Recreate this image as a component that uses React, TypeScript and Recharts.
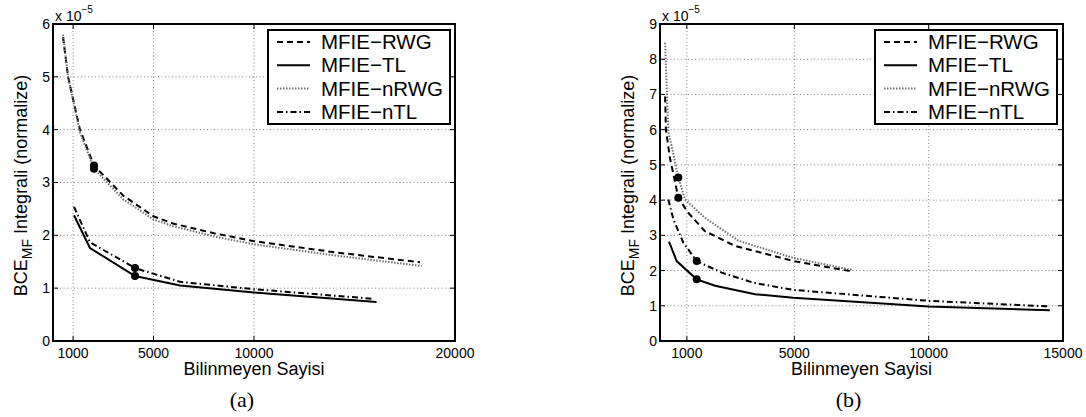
import React from 'react';
import { LineChart, Line, XAxis, YAxis, CartesianGrid, Legend, Label, ReferenceArea } from 'recharts';

const FONT = '"Liberation Sans", Arial, Helvetica, sans-serif';
const SERIF = '"Liberation Serif", "Times New Roman", serif';

const seriesNames = ['MFIE−RWG', 'MFIE−TL', 'MFIE−nRWG', 'MFIE−nTL'];
const xAxisTitle = 'Bilinmeyen Sayisi';
const yAxisTitleMain = 'BCE';
const yAxisTitleSub = 'MF';
const yAxisTitleRest = ' Integrali (normalize)';
const scaleBase = 'x 10';
const scaleExp = '−5';

// ---- panel (a) ----
const aXTicks = [1000, 5000, 10000, 20000];
const aYTicks = [0, 1, 2, 3, 4, 5, 6];
const aRWG = [[500, 5.75], [750, 5.0], [1340, 4.0], [2040, 3.32], [3500, 2.75], [5000, 2.36], [6000, 2.22], [8000, 2.04], [10000, 1.89], [14000, 1.68], [18260, 1.49]];
const aTL = [[1045, 2.38], [1840, 1.76], [4080, 1.23], [6320, 1.05], [10000, 0.92], [16100, 0.74]];
const aNRWG = [[500, 5.8], [750, 5.0], [1340, 3.95], [2040, 3.26], [3500, 2.68], [5000, 2.3], [6000, 2.17], [8000, 1.98], [10000, 1.83], [14000, 1.62], [18340, 1.42]];
const aNTL = [[1045, 2.54], [1840, 1.87], [4080, 1.38], [6320, 1.12], [10000, 0.98], [15900, 0.8]];
const aMarkers = [[2040, 3.32], [2040, 3.26], [4080, 1.38], [4080, 1.23]];

// ---- panel (b) ----
const bXTicks = [1000, 5000, 10000, 15000];
const bYTicks = [0, 1, 2, 3, 4, 5, 6, 7, 8, 9];
const bRWG = [[190, 6.94], [220, 6.0], [370, 5.2], [682, 4.07], [1050, 3.64], [1670, 3.12], [2790, 2.7], [4960, 2.27], [7130, 1.98]];
const bTL = [[335, 2.82], [620, 2.27], [1365, 1.75], [2050, 1.57], [3540, 1.33], [4960, 1.23], [10000, 0.98], [14510, 0.87]];
const bNRWG = [[190, 8.47], [310, 5.95], [500, 5.3], [682, 4.64], [930, 4.02], [1670, 3.5], [2910, 2.85], [4960, 2.36], [7140, 2.02]];
const bNTL = [[310, 4.02], [500, 3.45], [870, 2.79], [1365, 2.27], [2300, 1.94], [3500, 1.65], [4960, 1.45], [10000, 1.14], [14510, 0.98]];
const bMarkers = [[682, 4.64], [682, 4.07], [1365, 2.27], [1365, 1.75]];

const STYLES = [
  { stroke: '#000', strokeWidth: 2, strokeDasharray: '6 4' },
  { stroke: '#000', strokeWidth: 2, strokeDasharray: undefined as string | undefined },
  { stroke: '#707070', strokeWidth: 2, strokeDasharray: '1.5 1.5' },
  { stroke: '#000', strokeWidth: 2, strokeDasharray: '6 3 1.5 3' },
];

const toPts = (arr: number[][]) => arr.map(([x, y]) => ({ x, y }));

type PanelProps = {
  left: number;
  width: number;
  marginLeft: number;
  marginRight: number;
  xMax: number;
  xTicks: number[];
  yMax: number;
  yTicks: number[];
  series: number[][][];
  markers: number[][];
  legendLeft: number;
  tag: string;
  tagShift: number;
};

const TOP = 24;
const BOTTOM_M = 46;
const XAXIS_H = 30;
const YAXIS_W = 53;
const H = 417;
const TICK_LEN = 5;
const LEG_W = 184;
const LEG_H = 96;

function Panel(p: PanelProps) {
  const axisLine = { stroke: '#000', strokeWidth: 2 };
  const xDomain: [number, number] = [0, p.xMax];
  const yDomain: [number, number] = [0, p.yMax];
  const plotLeft = p.marginLeft + YAXIS_W;
  const plotRight = p.width - p.marginRight;
  const plotTop = TOP;
  const plotBottom = H - BOTTOM_M - XAXIS_H;

  const XTick = (props: any) => {
    const { x, y, payload } = props;
    const cx = typeof payload.coordinate === 'number' ? payload.coordinate : x;
    return (
      <g>
        <line x1={cx} x2={cx} y1={plotBottom} y2={plotBottom - TICK_LEN} stroke="#000" strokeWidth={1} />
        <line x1={cx} x2={cx} y1={plotTop} y2={plotTop + TICK_LEN} stroke="#000" strokeWidth={1} />
        <text x={x} y={y} dy="0.71em" textAnchor="middle" fontSize={14} fontFamily={FONT} fill="#000">
          {payload.value}
        </text>
      </g>
    );
  };

  const YTick = (props: any) => {
    const { x, y, payload } = props;
    const cy = typeof payload.coordinate === 'number' ? payload.coordinate : y;
    return (
      <g>
        <line x1={plotLeft} x2={plotLeft + TICK_LEN} y1={cy} y2={cy} stroke="#000" strokeWidth={1} />
        <line x1={plotRight} x2={plotRight - TICK_LEN} y1={cy} y2={cy} stroke="#000" strokeWidth={1} />
        <text x={x} y={y} dy="0.355em" textAnchor="end" fontSize={14} fontFamily={FONT} fill="#000">
          {payload.value}
        </text>
      </g>
    );
  };

  const renderX = (props: any) => {
    const vb = props.viewBox || { x: 0, y: 0, width: 0, height: 0 };
    const cx = vb.x + vb.width / 2;
    return (
      <g>
        <text x={cx} y={vb.y + 34} textAnchor="middle" fontSize={18} fontFamily={FONT} fill="#000">
          {xAxisTitle}
        </text>
        <text x={cx + p.tagShift} y={407} textAnchor="middle" fontSize={22} fontFamily={SERIF} fill="#000">
          {p.tag}
        </text>
      </g>
    );
  };

  const renderY = (props: any) => {
    const vb = props.viewBox || { x: 0, y: 0, width: 0, height: 0 };
    const px = vb.x + vb.width;
    const cy = vb.y + vb.height / 2;
    const bx = px - 26;
    return (
      <g>
        <text transform={`translate(${bx},${cy + 3}) rotate(-90)`} textAnchor="middle" fontSize={18} fontFamily={FONT} fill="#000">
          <tspan>{yAxisTitleMain}</tspan>
          <tspan fontSize={14} dy={5}>{yAxisTitleSub}</tspan>
          <tspan dy={-5}>{yAxisTitleRest}</tspan>
        </text>
        <text x={px + 2} y={vb.y - 3} fontSize={14} fontFamily={FONT} fill="#000">
          {scaleBase}
          <tspan fontSize={10} dy={-8}>{scaleExp}</tspan>
        </text>
      </g>
    );
  };

  const renderLegend = () => (
    <svg width={LEG_W} height={LEG_H} style={{ display: 'block', overflow: 'visible' }}>
      <rect x={1} y={1} width={LEG_W - 2} height={LEG_H - 2} fill="#fff" stroke="#000" strokeWidth={2} />
      {seriesNames.map((name, i) => {
        const y = 13 + i * 23.3;
        const s = STYLES[i];
        return (
          <g key={name}>
            <line x1={10} x2={43} y1={y} y2={y} stroke={s.stroke} strokeWidth={s.strokeWidth} strokeDasharray={s.strokeDasharray} />
            <text x={54} y={y + 7} fontSize={20.5} fontFamily={FONT} fill="#000">
              {name}
            </text>
          </g>
        );
      })}
    </svg>
  );

  return (
    <div style={{ position: 'absolute', left: p.left, top: 0 }}>
      <LineChart
        width={p.width}
        height={H}
        margin={{ top: TOP, right: p.marginRight, bottom: BOTTOM_M, left: p.marginLeft }}
        style={{ fontFamily: FONT }}
      >
        <CartesianGrid stroke="#808080" strokeDasharray="1 2.5" strokeWidth={1} />
        <XAxis
          dataKey="x"
          type="number"
          domain={xDomain}
          ticks={p.xTicks}
          allowDataOverflow
          interval={0}
          height={XAXIS_H}
          tickLine={false}
          tickSize={0}
          tickMargin={7}
          tick={XTick}
          axisLine={axisLine}
        >
          <Label content={renderX} />
        </XAxis>
        <YAxis
          type="number"
          domain={yDomain}
          ticks={p.yTicks}
          allowDataOverflow
          interval={0}
          width={YAXIS_W}
          tickLine={false}
          tickSize={0}
          tickMargin={3}
          tick={YTick}
          axisLine={axisLine}
        >
          <Label content={renderY} />
        </YAxis>
        <ReferenceArea x1={0} x2={p.xMax} y1={0} y2={p.yMax} fill="none" fillOpacity={0} stroke="#000" strokeWidth={2} ifOverflow="visible" />
        {p.series.map((s, i) => (
          <Line
            key={seriesNames[i]}
            name={seriesNames[i]}
            data={toPts(s)}
            dataKey="y"
            type="linear"
            stroke={STYLES[i].stroke}
            strokeWidth={STYLES[i].strokeWidth}
            strokeDasharray={STYLES[i].strokeDasharray}
            dot={false}
            activeDot={false}
            isAnimationActive={false}
          />
        ))}
        <Line
          name="markers"
          data={toPts(p.markers)}
          dataKey="y"
          stroke="none"
          legendType="none"
          dot={{ r: 4, fill: '#000', stroke: '#000', strokeWidth: 0 }}
          activeDot={false}
          isAnimationActive={false}
        />
        <Legend
          layout="horizontal"
          verticalAlign="middle"
          align="center"
          content={renderLegend}
          wrapperStyle={{ left: p.legendLeft, top: 29, width: LEG_W, height: LEG_H, overflow: 'visible' }}
        />
      </LineChart>
    </div>
  );
}

export default function App() {
  return (
    <div style={{ position: 'absolute', left: 0, top: 0, width: 1086, height: 417, background: '#fff', overflow: 'hidden' }}>
      <Panel
        left={0}
        width={480}
        marginLeft={0}
        marginRight={25}
        xMax={20000}
        xTicks={aXTicks}
        yMax={6}
        yTicks={aYTicks}
        series={[aRWG, aTL, aNRWG, aNTL]}
        markers={aMarkers}
        legendLeft={267}
        tag="(a)"
        tagShift={-12}
      />
      <Panel
        left={560}
        width={526}
        marginLeft={47}
        marginRight={23}
        xMax={15000}
        xTicks={bXTicks}
        yMax={9}
        yTicks={bYTicks}
        series={[bRWG, bTL, bNRWG, bNTL]}
        markers={bMarkers}
        legendLeft={314}
        tag="(b)"
        tagShift={-13}
      />
    </div>
  );
}
